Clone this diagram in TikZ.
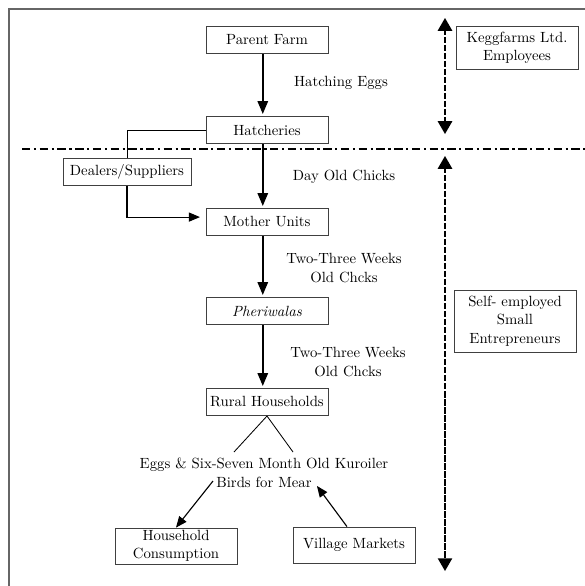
\documentclass[tikz,border=0pt]{standalone}
\usepackage{amsmath}
\usepackage{tikz}
\usetikzlibrary{shapes,arrows}
\usetikzlibrary{positioning}

\tikzset{
  box/.style={draw=black!75,line width=0.6pt,minimum width=3.05cm,minimum height=0.68cm,inner sep=2pt,align=center},
  arr/.style={-triangle 45,line width=1.1pt,shorten >=1.5pt},
  thinarr/.style={-triangle 45,line width=0.8pt},
  bigarr/.style={triangle 60-triangle 60,line width=1.5pt,dash pattern=on 4.5pt off 1.2pt},
  sep/.style={line width=1.3pt,dash pattern=on 6pt off 2.5pt on 1.6pt off 2.5pt},
  lbl/.style={align=center}
}

\begin{document}
\begin{tikzpicture}[x=0.025cm,y=-0.025cm,every node/.style={font=\fontsize{10.5pt}{13.2pt}\selectfont}]
\useasboundingbox (0,0) rectangle (585,586);

% frame (only top and left visible)
\draw[black!60,line width=0.8pt] (9,586) -- (9,9) -- (585,9);

% main chain
\node[box] (parent) at (267,40) {Parent Farm};
\node[box] (hatch) at (267,130) {Hatcheries};
\node[box,minimum width=3.2cm] (dealer) at (127,172) {Dealers/Suppliers};
\node[box] (mother) at (267,222) {Mother Units};
\node[box] (pheri) at (267,311) {\textit{Pheriwalas}};
\node[box] (rural) at (267,402) {Rural Households};

\node[lbl] (eggs) at (264,473) {Eggs \& Six-Seven Month Old Kuroiler\\Birds for Mear};
\node[box,minimum height=0.9cm,inner sep=1pt] (house) at (176,546) {Household\\Consumption};
\node[box,minimum height=0.9cm] (village) at (354,545) {Village Markets};

% right hand boxes
\node[box,minimum height=1.08cm,inner sep=1pt] (kegg) at (517,48) {Keggfarms Ltd.\\Employees};
\node[box,minimum height=1.55cm,inner sep=1pt] (self) at (515,321) {Self- employed\\Small\\Entrepreneurs};

% labels on the arrows
\node[lbl] (l1) at (341,83) {Hatching Eggs};
\node[lbl] (l2) at (344,177) {Day Old Chicks};
\node[lbl] (l3) at (344,268) {Two-Three Weeks\\Old Chcks};
\node[lbl] (l4) at (348,362) {Two-Three Weeks\\Old Chcks};

% helper points
\coordinate (d1) at (22,149);
\coordinate (d2) at (585,149);
\coordinate (sl) at (234,452);
\coordinate (sr) at (293,452);
\coordinate (e1) at (213,481);
\coordinate (e2) at (317,486);
\coordinate (k1) at (445,18);
\coordinate (k2) at (445,134);
\coordinate (s1) at (445,156);
\coordinate (s2) at (445,571);

\draw[arr] ([xshift=-3pt]parent.south) -- ([xshift=-3pt]hatch.north);
\draw[arr] ([xshift=-3pt]hatch.south) -- ([xshift=-3pt]mother.north);
\draw[arr] ([xshift=-3pt]mother.south) -- ([xshift=-3pt]pheri.north);
\draw[arr] ([xshift=-3pt]pheri.south) -- ([xshift=-3pt]rural.north);

\draw[line width=0.6pt] (hatch.west) -| (dealer.north);
\draw[thinarr,shorten >=4pt] (dealer.south) |- ([yshift=3.5pt]mother.west);

\draw[line width=0.6pt] (rural.south) -- (sl);
\draw[line width=0.6pt] (rural.south) -- (sr);
\draw[thinarr] (e1) -- (house.north);
\draw[thinarr] ([xshift=-5pt]village.north) -- (e2);

% separator and the two groups
\draw[sep] (d1) -- (d2);
\draw[bigarr] (k1) -- (k2);
\draw[bigarr] (s1) -- (s2);
\end{tikzpicture}
\end{document}
